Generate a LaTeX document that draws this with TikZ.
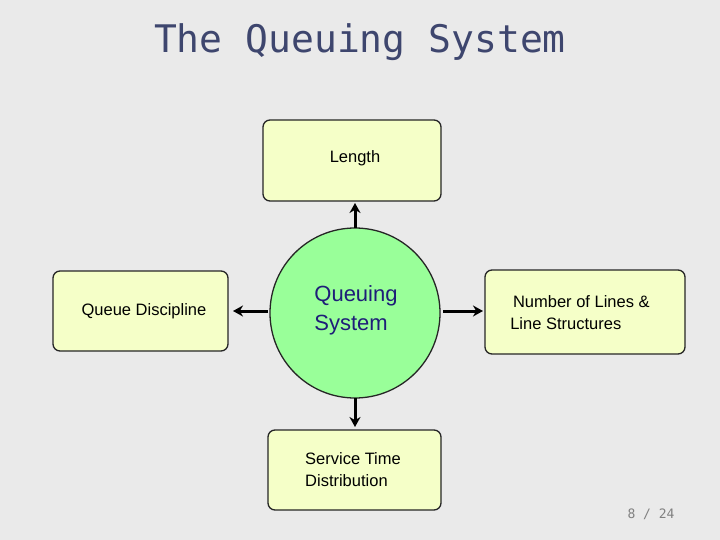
\documentclass[tikz,border=0pt]{standalone}
\usepackage{fontspec}
\setmainfont{Liberation Sans}
\newfontfamily\titlef{DejaVu Sans Mono}
\newfontfamily\monof{DejaVu Sans Mono}
\usetikzlibrary{arrows.meta}
\definecolor{bg}{RGB}{234,234,234}
\definecolor{boxfill}{RGB}{245,255,200}
\definecolor{circfill}{RGB}{153,255,153}
\definecolor{titlec}{RGB}{62,70,110}
\definecolor{qsc}{RGB}{30,30,120}
\begin{document}
\begin{tikzpicture}[x=1pt,y=-1pt,
  box/.style={draw=black!85,line width=1.3pt,rounded corners=7pt,fill=boxfill},
  lbl/.style={font=\fontsize{16.5}{22}\selectfont,align=left},
  arr/.style={line width=3pt,-{Stealth[length=10pt,width=11pt]}}]
\fill[bg] (0,0) rectangle (720,540);
\useasboundingbox (0,0) rectangle (720,540);
\node[font=\titlef\fontsize{38}{42}\selectfont,text=titlec] (title) at (360,42) {The Queuing System};
\draw[line width=1.3pt,draw=black!85,fill=circfill] (355,313) circle (85);
\node[lbl,font=\fontsize{22}{29}\selectfont,text=qsc] (qs) at (356,310) {Queuing\\System};
\draw[box] (263,120) rectangle (441,201);
\node[lbl] (len) at (355,158) {Length};
\draw[box] (53,271) rectangle (228,351);
\node[lbl] (qd) at (144,311) {Queue Discipline};
\draw[box] (485,270) rectangle (685,354);
\node[lbl] (nl) at (580,313) {\,Number of Lines \&\\Line Structures};
\draw[box] (268,430) rectangle (441,510);
\node[lbl] (st) at (353,470) {Service Time\\Distribution};
\coordinate (t1) at (355,228); \coordinate (t2) at (355,203);
\coordinate (l1) at (268,311); \coordinate (l2) at (233,311);
\coordinate (r1) at (443,311); \coordinate (r2) at (483,311);
\coordinate (b1) at (355,398); \coordinate (b2) at (355,427);
\draw[arr] (t1) -- (t2);
\draw[arr] (l1) -- (l2);
\draw[arr] (r1) -- (r2);
\draw[arr] (b1) -- (b2);
\node[font=\monof\fontsize{13}{15}\selectfont,text=black!50] (pg) at (651,514) {8 / 24};
\end{tikzpicture}
\end{document}
